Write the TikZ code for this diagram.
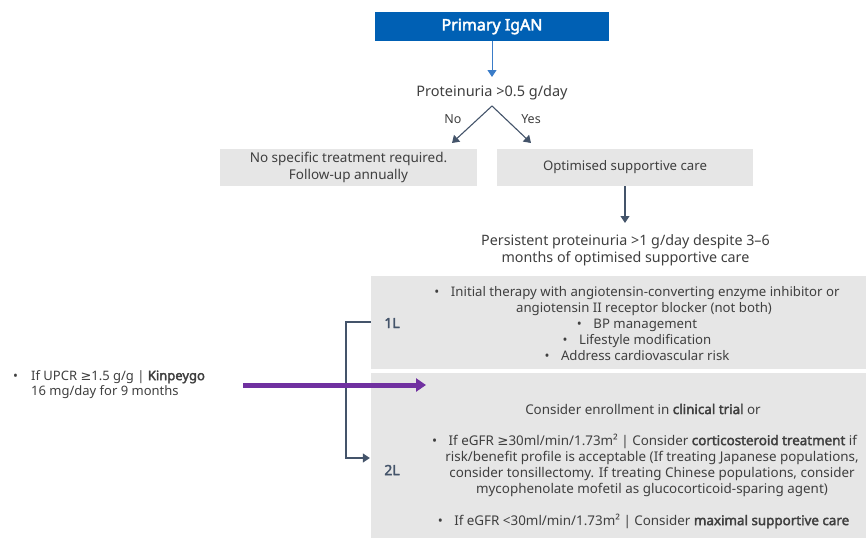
\documentclass[tikz,border=0pt]{standalone}
\usepackage{fontspec}
\setmainfont{Noto Sans}[BoldFont={Noto Sans}, BoldFeatures={FakeBold=2.5}]
\newfontfamily\symfont{DejaVu Sans}
\newcommand{\gesign}{{\symfont ≥}}
\newcommand{\bul}{\makebox[16.5pt][l]{•}}
\usetikzlibrary{arrows.meta}
\definecolor{txt}{HTML}{3F3F3F}
\definecolor{igablue}{HTML}{0060B4}
\definecolor{linkblue}{HTML}{3A7CC8}
\definecolor{slate}{HTML}{44546A}
\definecolor{boxgray}{HTML}{E6E6E6}
\definecolor{kpurple}{HTML}{7030A0}
\tikzset{
  x=1pt, y=-1pt,
  base/.style={font=\fontsize{13}{16}\selectfont, text=txt, inner sep=0pt},
  graybox/.style={base, fill=boxgray, align=center},
  headbox/.style={fill=igablue, text=white, font=\fontsize{16}{18}\selectfont\bfseries, inner sep=0pt},
  plain/.style={base, align=center},
  boxtext/.style={plain, font=\fontsize{13.4}{16}\selectfont},
  tag/.style={font=\fontsize{14}{16}\selectfont\bfseries, text=slate, inner sep=0pt},
  bluearrow/.style={draw=linkblue, line width=1pt, -{Triangle[width=9pt,length=7pt]}},
  slatearrow/.style={draw=slate, line width=1.1pt, -{Triangle[width=9pt,length=7pt]}},
  purplearrow/.style={draw=kpurple, line width=5pt, -{Triangle[width=13pt,length=10pt]}},
}
\begin{document}
\begin{tikzpicture}
\useasboundingbox (0,0) rectangle (866,538);

% header and first decision
\node[headbox, minimum width=234pt, minimum height=29pt] (top) at (492,26.5) {Primary IgAN};
\node[plain, font=\fontsize{14.5}{17}\selectfont] (prot) at (492,93) {Proteinuria >0.5 g/day};
\draw[bluearrow] (top.south) -- (prot.north |- 0,77);

\coordinate (apex) at (492,106);
\coordinate (noend) at (452,143);
\coordinate (yesend) at (531,143);
\draw[slatearrow] (apex) -- (noend);
\draw[slatearrow] (apex) -- (yesend);
\node[plain, font=\fontsize{12.5}{16}\selectfont] (no) at (453,119.5) {No};
\node[plain, font=\fontsize{12.5}{16}\selectfont] (yes) at (531,119.5) {Yes};

% outcome boxes
\node[graybox, font=\fontsize{13.5}{17}\selectfont, minimum width=257pt, minimum height=37pt] (nospec) at (348.5,167.5)
  {No specific treatment required.\\Follow-up annually};
\node[graybox, font=\fontsize{13.2}{17}\selectfont, minimum width=256pt, minimum height=37pt] (osc) at (625,167.5)
  {Optimised supportive care};

\node[plain, font=\fontsize{14.3}{17}\selectfont] (persist) at (625.5,250.5)
  {Persistent proteinuria >1 g/day despite 3–6\\months of optimised supportive care};
\draw[slatearrow] (osc.south) -- (osc.south |- 0,223);

% first-line box
\node[graybox, minimum width=495pt, minimum height=93pt] (box1) at (618.5,322.5) {};
\node[boxtext, font=\fontsize{13.2}{16}\selectfont] (txt1) at (637,324)
  {\bul Initial therapy with angiotensin-converting enzyme inhibitor or\\
   \hspace*{14pt}angiotensin II receptor blocker (not both)\\
   \bul BP management\\
   \bul Lifestyle modification\\
   \bul Address cardiovascular risk};
\node[tag] (l1) at (392,323) {1L};

% second-line box
\node[graybox, minimum width=495pt, minimum height=165pt] (box2) at (618.5,455.5) {};
\node[boxtext] (txt2a) at (643,409) {Consider enrollment in \textbf{clinical trial} or};
\node[boxtext] (txt2b) at (652,465)
  {\bul If eGFR \gesign30ml/min/1.73m² | Consider \textbf{corticosteroid treatment} if\hspace*{15pt}\\
   risk/benefit profile is acceptable (If treating Japanese populations,\\
   consider tonsillectomy. If treating Chinese populations, consider\\
   mycophenolate mofetil as glucocorticoid-sparing agent)};
\node[boxtext] (txt2c) at (643.5,521)
  {\bul If eGFR <30ml/min/1.73m² | Consider \textbf{maximal supportive care}};
\node[tag] (l2) at (392,470) {2L};

% bracket from 1L to 2L
\coordinate (bend) at (346,458);
\draw[slatearrow] (box1.west |- 0,322) -- (bend |- 0,322) -- (bend) -- ([xshift=-1pt]box2.west |- bend);

% Kinpeygo note and arrow
\node[base, align=left, anchor=north west] (kin) at (13,370)
  {\makebox[18pt][l]{•}If UPCR \gesign1.5 g/g | \textbf{Kinpeygo}\\[-1pt]
   \hspace*{18pt}16 mg/day for 9 months};
\coordinate (kstart) at (243,385);
\coordinate (kend) at (426,385);
\draw[purplearrow] (kstart) -- (kend);
\end{tikzpicture}
\end{document}
